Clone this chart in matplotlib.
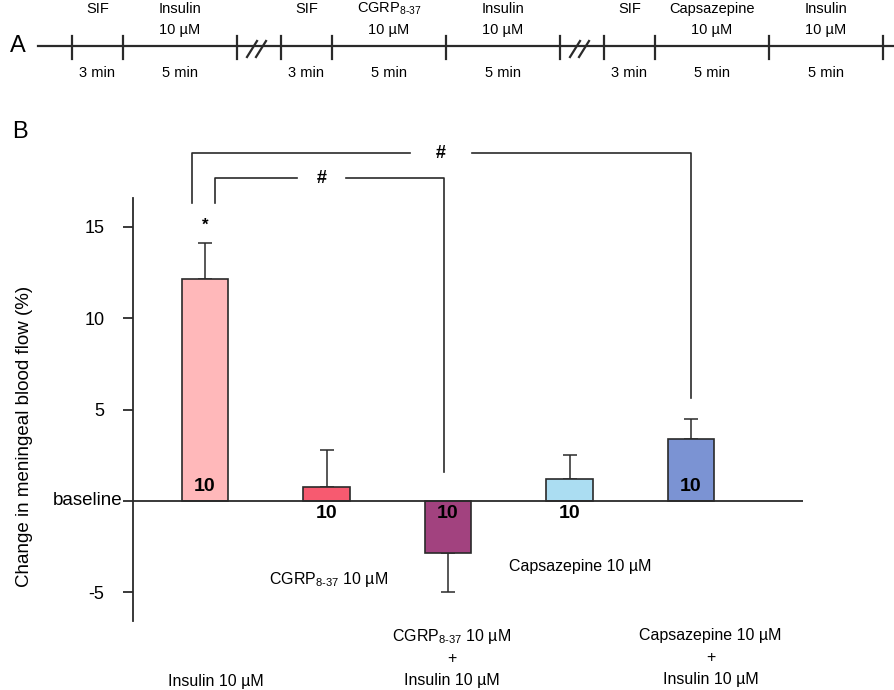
import numpy as np
import matplotlib
matplotlib.use('Agg')
import matplotlib.pyplot as plt

plt.rcParams['font.family'] = ['Liberation Sans', 'DejaVu Sans']
plt.rcParams['mathtext.fontset'] = 'custom'
plt.rcParams['mathtext.rm'] = 'Liberation Sans'
plt.rcParams['mathtext.bf'] = 'Liberation Sans:bold'

CGRP = 'CGRP$_{\\mathregular{8\u201037}}$'

# panel A: protocol timeline
proto_groups = [
    [('SIF', '', 3), ('Insulin', '10 µM', 5)],
    [('SIF', '', 3), (CGRP, '10 µM', 5), ('Insulin', '10 µM', 5)],
    [('SIF', '', 3), ('Capsazepine', '10 µM', 5), ('Insulin', '10 µM', 5)],
]

# panel B: bar data
groups = ['Insulin 10 µM',
          CGRP + ' 10 µM',
          CGRP + ' 10 µM\n+\nInsulin 10 µM',
          'Capsazepine 10 µM',
          'Capsazepine 10 µM\n+\nInsulin 10 µM']
means = [12.13, 0.77, -2.84, 1.20, 3.39]
sems = [1.97, 2.02, 2.13, 1.31, 1.09]
n_rats = [10, 10, 10, 10, 10]
colors = ['#FFB8BA', '#F75A70', '#A2427F', '#ABDDF2', '#7B93D3']

dark = '#2a2a2a'

fig = plt.figure(figsize=(8.95, 6.9), dpi=100)

# ---- panel A, drawn in pixel space
axA = fig.add_axes([0, 0, 1, 1])
axA.set_xlim(0, 895)
axA.set_ylim(690, 0)
axA.axis('off')

px_per_seg = {3: 51, 5: 114}
break_gap = 44
line_y = 46
axA.plot([38, 895], [line_y, line_y], color=dark, lw=1.6)
axA.text(10, line_y, 'A', fontsize=17, va='center', ha='left')

x = 72
for gi, grp in enumerate(proto_groups):
    if gi > 0:
        # break marks
        bx = x + 10
        for dx in (0, 9):
            axA.plot([bx + dx, bx + dx + 10], [57, 41], color=dark, lw=1.6)
        x += break_gap
    axA.plot([x, x], [36, 59], color=dark, lw=1.6)
    for name, conc, mins in grp:
        x2 = x + px_per_seg[mins]
        xc = (x + x2) / 2
        axA.text(xc, 9, name, fontsize=10.5, ha='center', va='center')
        if conc:
            axA.text(xc, 30, conc, fontsize=10.5, ha='center', va='center')
        axA.text(xc, 73, '%d min' % mins, fontsize=10.5, ha='center', va='center')
        axA.plot([x2, x2], [36, 59], color=dark, lw=1.6)
        x = x2

fig.text(12 / 895, 1 - 132 / 690, 'B', fontsize=17, ha='left', va='center')

# ---- panel B
ax = fig.add_axes([133 / 895, 1 - 621 / 690, 670 / 895, 423 / 690])
ax.patch.set_alpha(0)
pos = np.arange(len(groups))
ax.bar(pos, means, width=0.38, color=colors, edgecolor=dark, linewidth=1.2, zorder=2)
for p, m, s in zip(pos, means, sems):
    lower = [s] if m < 0 else [0]
    upper = [0] if m < 0 else [s]
    ax.errorbar(p, m, yerr=[lower, upper], fmt='none', ecolor=dark,
                elinewidth=1.1, capsize=5, capthick=1.1, zorder=1)

for p, m, nn in zip(pos, means, n_rats):
    ny = 0.8 if m > 2 else -0.7
    ax.text(p, ny, str(nn), fontsize=14, fontweight='bold', ha='center', va='center', zorder=3)

ax.axhline(0, color=dark, lw=1.3, zorder=3)
ax.set_xlim(-0.593, 4.922)
ax.set_ylim(-6.56, 16.56)
for sp in ['top', 'right', 'bottom']:
    ax.spines[sp].set_visible(False)
ax.spines['left'].set_color(dark)
ax.spines['left'].set_linewidth(1.3)
ax.set_xticks([])
ax.set_yticks([-5, 0, 5, 10, 15])
ax.set_yticklabels(['-5', '', '5', '10', '15'], fontsize=13)
ax.tick_params(axis='y', direction='out', length=7.5, width=1.3, color=dark, pad=13)
ax.text(-0.016, 0, 'baseline', transform=ax.get_yaxis_transform(),
        fontsize=13.5, ha='right', va='center')

fig.text(25 / 895, 1 - 436 / 690, 'Change in meningeal blood flow (%)',
         rotation=90, fontsize=13.5, ha='center', va='center')

# significance
ax.text(0, 15.05, '*', fontsize=12, fontweight='bold', ha='center', va='center')
bk = dict(color=dark, lw=1.2, clip_on=False)
ax.plot([-0.107, -0.107, 1.69], [16.3, 19.0, 19.0], **bk)
ax.plot([2.2, 4.0, 4.0], [19.0, 19.0, 5.63], **bk)
ax.text(1.94, 19.0, '#', fontsize=13, fontweight='bold', ha='center', va='center')
ax.plot([0.08, 0.08, 0.76], [16.3, 17.65, 17.65], **bk)
ax.plot([1.16, 1.97, 1.97], [17.65, 17.65, 1.58], **bk)
ax.text(0.96, 17.65, '#', fontsize=13, fontweight='bold', ha='center', va='center')

# group labels
label_dx = [0.09, 0.02, 0.03, 0.09, 0.16]
label_y = [-9.84, -4.3, -7.4, -3.6, -7.35]
for p, g, dx, y in zip(pos, groups, label_dx, label_y):
    for i, line in enumerate(g.split('\n')):
        ax.text(p + dx, y - i * 1.2, line, fontsize=11.5, ha='center', va='center',
                clip_on=False)

fig.savefig('out.png', dpi=100)
